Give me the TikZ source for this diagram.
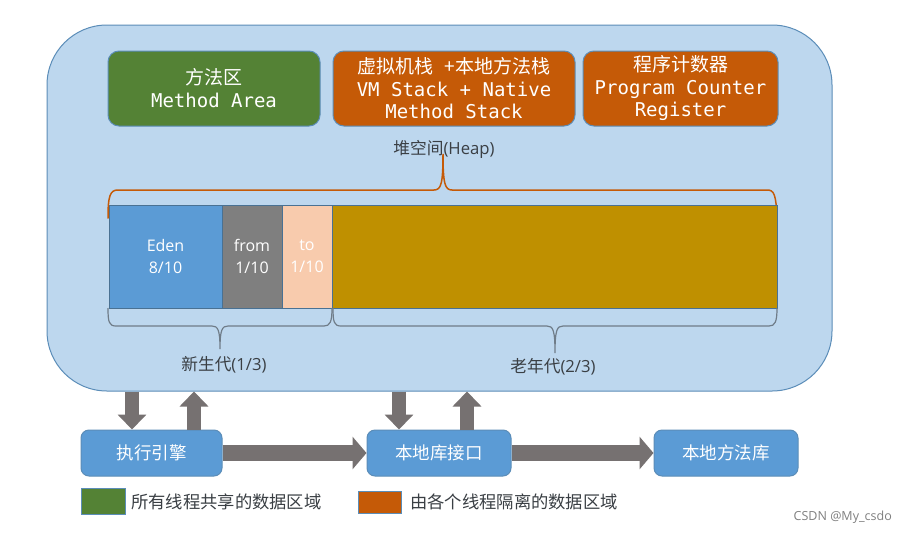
\documentclass[tikz,border=0pt]{standalone}
\usepackage{fontspec}
\setmainfont{Open Sans}
\newfontfamily\cjk{Noto Sans CJK SC}
\newfontfamily\monof{DejaVu Sans Mono}
\usetikzlibrary{arrows.meta,calc}
\definecolor{panelblue}{HTML}{BDD7EE}
\definecolor{edgeblue}{HTML}{5B8DB8}
\definecolor{boxblue}{HTML}{5B9BD5}
\definecolor{greenfill}{HTML}{548235}
\definecolor{orangefill}{HTML}{C55A07}
\definecolor{greyfill}{HTML}{7F7F7F}
\definecolor{peach}{HTML}{F8CBAD}
\definecolor{gold}{HTML}{BF9000}
\definecolor{arrowgrey}{HTML}{767171}
\definecolor{bracegrey}{HTML}{6F7C88}
\definecolor{darktext}{HTML}{3A3F44}
\tikzset{
  x=1pt,y=-1pt,
  panel/.style={draw=edgeblue,line width=1pt,fill=panelblue,rounded corners=60pt,minimum width=785pt,minimum height=366pt,inner sep=0pt},
  topbox/.style={draw=edgeblue,line width=1pt,rounded corners=11pt,minimum height=75pt,inner sep=0pt,text=white,align=center,font=\fontsize{19}{22.5}\selectfont\monof},
  bar/.style={draw=edgeblue!80!black,line width=1pt,minimum height=103pt,inner sep=0pt,text=white,align=center,font=\fontsize{16}{21.5}\selectfont},
  flowbox/.style={draw=edgeblue,line width=1pt,fill=boxblue,rounded corners=8pt,minimum height=46pt,inner sep=0pt,text=white,font=\cjk\fontsize{17.5}{20}\selectfont},
  swatch/.style={draw=edgeblue,line width=1pt,inner sep=0pt},
  caption/.style={inner sep=0pt,text=darktext,font=\fontsize{16.7}{20}\selectfont},
  legendtext/.style={inner sep=0pt,text=darktext,font=\cjk\fontsize{17.3}{20}\selectfont},
  vblock/.style={draw=arrowgrey,line width=14pt,-{Triangle[length=15pt,width=28pt]}},
  hblock/.style={draw=arrowgrey,line width=15.5pt,-{Triangle[length=14pt,width=32pt]}},
  bracetop/.style={draw=orangefill,line width=1.5pt,line cap=round},
  bracelow/.style={draw=bracegrey,line width=1.2pt},
}
\begin{document}
\begin{tikzpicture}
\useasboundingbox (0,0) rectangle (907,533);
\fill[white] (0,0) rectangle (907,533);
\node[panel] (main) at (439.5,208) {};
\node[topbox,fill=greenfill,minimum width=212pt] (method) at (214,88.5) {\raisebox{1pt}{\cjk 方法区}\\\raisebox{1pt}{Method Area}};
\node[topbox,fill=orangefill,minimum width=242pt] (vm) at (454,88.5) {\raisebox{1pt}{{\cjk 虚拟机栈}\ {\cjk +本地方法栈}}\\\raisebox{1pt}{VM Stack + Native}\\\raisebox{1pt}{Method Stack}};
\node[topbox,fill=orangefill,minimum width=195pt] (pc) at (680.5,88.5) {{\cjk 程序计数器}\\Program Counter\\Register};
\node[caption] (heap) at (444,149) {{\cjk 堆空间}(Heap)};
\draw[bracetop] (108,218) .. controls (108,196) and (110,190) .. (118,190) -- (434,190) .. controls (441,190) and (443,184) .. (443,154) .. controls (443,184) and (445,190) .. (452,190) -- (767,190) .. controls (774,190) and (776,194) .. (777,218);
\node[bar,fill=boxblue,minimum width=113pt] (eden) at (165.5,256.5) {Eden\\8/10};
\node[bar,fill=greyfill,minimum width=60pt] (from) at (252,256.5) {from\\1/10};
\node[bar,fill=peach,minimum width=50pt] (to) at (307,256.5) {to\\1/10};
\node[bar,fill=gold,minimum width=445pt] (old) at (554.5,256.5) {};
\node[caption] (young) at (224,365) {{\cjk 新生代}(1/3)};
\node[caption] (tenured) at (553,367) {{\cjk 老年代}(2/3)};
\draw[bracelow] (108,308) .. controls (108,322) and (109,326) .. (116,326) -- (212,326) .. controls (218,326) and (220,330) .. (220,349) .. controls (220,330) and (222,326) .. (228,326) -- (324,326) .. controls (330,326) and (332,322) .. (332,308);
\draw[bracelow] (333,308) .. controls (333,322) and (334,326) .. (341,326) -- (547,326) .. controls (553,326) and (555,330) .. (555,353) .. controls (555,330) and (557,326) .. (563,326) -- (769,326) .. controls (775,326) and (777,322) .. (777,308);
\node[flowbox,minimum width=141pt] (exec) at (151.5,453) {执行引擎};
\node[flowbox,minimum width=144pt] (iface) at (439,453) {本地库接口};
\node[flowbox,minimum width=144pt] (lib) at (726,453) {本地方法库};
\draw[vblock] (132,0 |- main.south) -- (132,0 |- exec.north);
\draw[vblock] (194,0 |- exec.north) -- (194,0 |- main.south);
\draw[vblock] (399,0 |- main.south) -- (399,0 |- iface.north);
\draw[vblock] (467,0 |- iface.north) -- (467,0 |- main.south);
\draw[hblock] (exec.east) -- (iface.west);
\draw[hblock] (iface.east) -- (lib.west);
\node[swatch,fill=greenfill,minimum width=44pt,minimum height=26pt] (sw1) at (103,501) {};
\node[swatch,fill=orangefill,minimum width=43pt,minimum height=22pt] (sw2) at (379.5,502) {};
\node[legendtext,anchor=west] (lt1) at (131,502) {所有线程共享的数据区域};
\node[legendtext,anchor=west] (lt2) at (410,502) {由各个线程隔离的数据区域};
\node[inner sep=0pt,anchor=east,text=black!50,font=\fontsize{12.5}{15}\selectfont] (mark) at (892,517) {CSDN @My\_csdo};
\end{tikzpicture}
\end{document}
